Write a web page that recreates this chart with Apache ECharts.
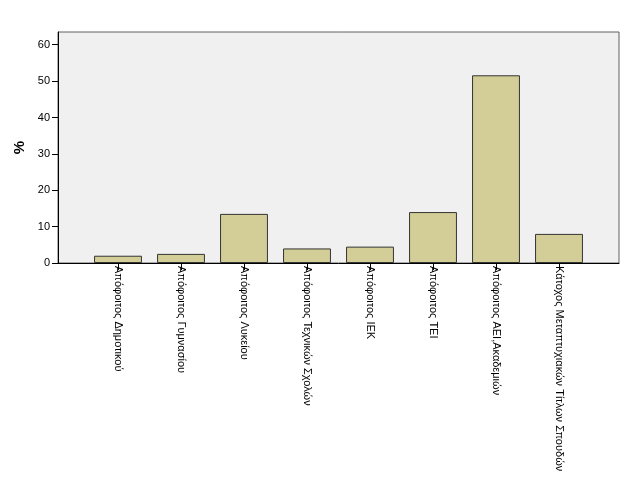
<!DOCTYPE html>
<html><head><meta charset="utf-8">
<script src="https://cdn.jsdelivr.net/npm/echarts@6/dist/echarts.min.js"></script>
<style>html,body{margin:0;padding:0;background:#fff}#c{width:626px;height:501px}</style>
</head><body><div id="c"></div>
<script>
const categories = [
  "Απόφοιτος Δημοτικού",
  "Απόφοιτος Γυμνασίου",
  "Απόφοιτος Λυκείου",
  "Απόφοιτος Τεχνικών Σχολών",
  "Απόφοιτος ΙΕΚ",
  "Απόφοιτος ΤΕΙ",
  "Απόφοιτος ΑΕΙ,Ακαδεμιών",
  "Κάτοχος Μεταπτυχιακών Τίτλων Σπουδών"
];
const percentValues = [2.0, 2.5, 13.5, 4.0, 4.5, 14.0, 51.6, 8.0];
const yTicks = [0, 10, 20, 30, 40, 50, 60];

const chart = echarts.init(document.getElementById('c'), null, {renderer: 'canvas'});
const font = 'Arial, "Liberation Sans", sans-serif';
const yMax = 63.5;
chart.setOption({
  animation: false,
  backgroundColor: '#ffffff',
  grid: [
    {left: 58, right: 7, top: 32, bottom: 238, show: true, backgroundColor: '#f0f0f0', borderColor: '#606060', borderWidth: 1},
    {left: 86.5, right: 35.5, top: 32, bottom: 238}
  ],
  xAxis: [
    {gridIndex: 0, type: 'category', data: [''], axisLine: {show: true, lineStyle: {color: '#000', width: 1}}, axisTick: {show: false}, axisLabel: {show: false}},
    {gridIndex: 1, type: 'category', data: categories,
     axisLine: {show: false},
     axisTick: {show: true, alignWithLabel: true, length: 7, lineStyle: {color: '#000'}},
     axisLabel: {rotate: -90, margin: 3, color: '#000', fontSize: 11, fontFamily: font, interval: 0}}
  ],
  yAxis: [
    {gridIndex: 0, type: 'value', min: 0, max: yMax, interval: 10,
     name: '%', nameLocation: 'middle', nameGap: 31, nameRotate: 90,
     nameTextStyle: {fontSize: 15, fontWeight: 'bold', color: '#000', fontFamily: font},
     axisLine: {show: true, lineStyle: {color: '#000', width: 1}},
     axisTick: {show: true, inside: false, length: 6, lineStyle: {color: '#000'}},
     axisLabel: {color: '#000', fontSize: 11, fontFamily: font, margin: 8, showMaxLabel: false,
       formatter: v => yTicks.includes(v) ? String(v) : ''},
     splitLine: {show: false}},
    {gridIndex: 1, type: 'value', min: 0, max: yMax, interval: 10, show: false, splitLine: {show: false}}
  ],
  series: [{
    type: 'bar', xAxisIndex: 1, yAxisIndex: 1,
    data: percentValues,
    barCategoryGap: '24%',
    itemStyle: {color: '#d3ce97', borderColor: '#333', borderWidth: 1}
  }]
});
</script></body></html>
